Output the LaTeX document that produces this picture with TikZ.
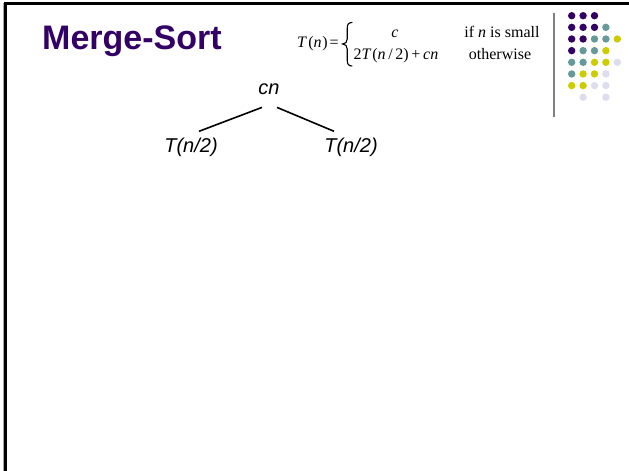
\documentclass[tikz,border=0pt]{standalone}
\usepackage{fontspec}
\setmainfont{Liberation Sans}
\newfontfamily\tms{Liberation Serif}
\usetikzlibrary{calc}
\definecolor{dpurple}{HTML}{330066}
\definecolor{dteal}{HTML}{669999}
\definecolor{dyellow}{HTML}{CCCC00}
\definecolor{dlav}{HTML}{DDDDEE}
\tikzset{
  dot/.style={circle,inner sep=0pt,minimum size=7.4pt},
  treetext/.style={inner sep=0pt,font=\fontsize{20}{24}\selectfont\itshape},
  formtext/.style={inner sep=0pt,font=\tms\fontsize{16}{20}\selectfont},
  edge/.style={line width=1.6pt,black},
  bracestyle/.style={line width=1.1pt,black,line cap=round}
}
\begin{document}
\begin{tikzpicture}[x=1pt,y=-1pt]
\useasboundingbox (0,0) rectangle (629,471);
\fill[white] (0,0) rectangle (629,471);
% frame
\draw[gray!70,line width=1.4pt] (3.2,3) -- (3.2,471);
\draw[black,line width=2.6pt] (5.3,2) -- (5.3,471);
\draw[black,line width=3pt] (4,3.5) -- (629,3.5);
% divider
\draw[gray,line width=1.8pt] (554,13) -- (554,117);
% dots
\foreach \row/\cols in {0/{0/dpurple,1/dpurple,2/dpurple},
  1/{0/dpurple,1/dpurple,2/dpurple,3/dteal},
  2/{0/dpurple,1/dpurple,2/dteal,3/dteal,4/dyellow},
  3/{0/dpurple,1/dteal,2/dteal,3/dyellow},
  4/{0/dteal,1/dteal,2/dyellow,3/dyellow,4/dlav},
  5/{0/dteal,1/dyellow,2/dyellow,3/dlav},
  6/{0/dyellow,1/dyellow,2/dlav,3/dlav},
  7/{1/dlav,3/dlav}}{
  \foreach \c/\col in \cols {
    \node[dot,fill=\col] (d\row\c) at ({571.7+11.4*\c},{15.7+11.65*\row}) {};
  }
}
% title
\node[anchor=base west,inner sep=0pt,text=dpurple,font=\fontsize{34}{40}\selectfont\bfseries] (title) at (42,49) {Merge-Sort};
% formula
\node[formtext,anchor=base west] (tn) at (297,47) {\textit{T}\hspace{0.08em}(\textit{n}\hspace{0.05em})\hspace{0.12em}=};
\draw[bracestyle] (352,22.5) .. controls (348.5,22.5) and (347.2,24.5) .. (347.2,28.5)
  -- (347.2,39) .. controls (347.2,42) and (345.5,44) .. (342.5,44)
  .. controls (345.5,44) and (347.2,46) .. (347.2,49)
  -- (347.2,60) .. controls (347.2,64) and (348.5,66) .. (352,66);
\node[formtext,anchor=base] (c1) at (395,37) {\textit{c}};
\node[formtext,anchor=base] (c2) at (396,59) {2\textit{T}\hspace{0.05em}(\textit{n}\,/\,2)\,+\,\textit{cn}};
\node[formtext,anchor=base] (s1) at (502,37) {if \textit{n} is small};
\node[formtext,anchor=base] (s2) at (500,59) {otherwise};
% tree
\node[treetext,anchor=base] (cn) at (269,94) {cn};
\node[treetext,anchor=base] (tl) at (191,152) {T(n/2)};
\node[treetext,anchor=base] (tr) at (351,152) {T(n/2)};
\draw[edge] ($(cn.south)+(-7,13)$) -- ($(tl.north)+(8,-6)$);
\draw[edge] ($(cn.south)+(8,13)$) -- ($(tr.north)+(-17,-6)$);
\end{tikzpicture}
\end{document}
